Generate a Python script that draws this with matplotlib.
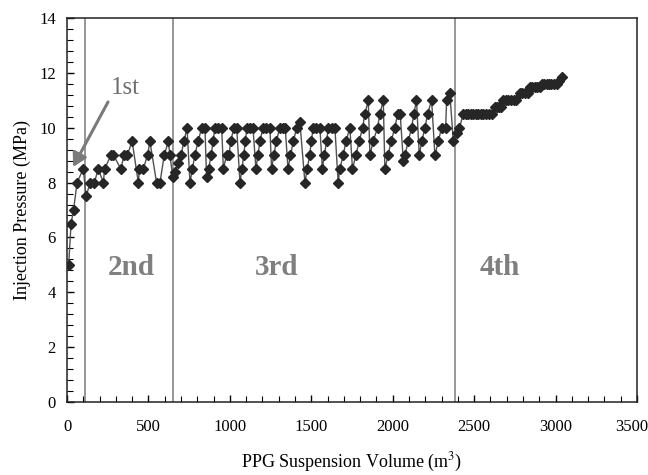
import matplotlib.pyplot as plt
import matplotlib.transforms as mtransforms
import numpy as np

plt.rcParams['font.family'] = ['Liberation Serif', 'DejaVu Serif']
plt.rcParams['mathtext.fontset'] = 'stix'

# PPG suspension volume (m3) and injection pressure (MPa)
volume = [10, 25, 40, 62, 100, 117, 143, 168, 192, 223, 231, 270, 285, 331, 350, 370, 400,
          438, 445, 468, 495, 509, 550, 571, 597, 622, 632,
          650, 665, 680, 700, 718, 737,
          755, 770, 785, 805, 827, 847,
          857, 870, 885, 897, 908, 930, 950,
          960, 980, 995, 1005, 1025, 1042,
          1062, 1075, 1085, 1095, 1105, 1125, 1142,
          1160, 1172, 1185, 1203, 1225, 1246,
          1256, 1270, 1285, 1307, 1325, 1340,
          1357, 1372, 1390, 1410, 1430,
          1461, 1475, 1490, 1500, 1512, 1530, 1553,
          1568, 1580, 1594, 1604, 1625, 1645,
          1665, 1675, 1696, 1713, 1737,
          1753, 1774, 1794, 1815, 1829, 1850,
          1860, 1880, 1907, 1921, 1942,
          1952, 1972, 1990, 2013, 2030, 2046,
          2065, 2075, 2095, 2116, 2130, 2146,
          2163, 2178, 2198, 2214, 2239,
          2259, 2280, 2300, 2325, 2331, 2351,
          2372, 2392, 2410, 2433,
          2450, 2465, 2480, 2495, 2510, 2525, 2540, 2555, 2570, 2590, 2610,
          2627, 2640, 2655, 2668,
          2678, 2695, 2710, 2725, 2742, 2760,
          2781, 2795, 2810, 2830,
          2842, 2857, 2872, 2888, 2904,
          2914, 2930, 2945, 2960, 2975, 2990, 3006, 3020, 3037]
pressure = [5.0, 6.5, 7.0, 8.0, 8.5, 7.5, 8.0, 8.0, 8.5, 8.0, 8.5, 9.0, 9.0, 8.5, 9.0, 9.0, 9.5,
            8.0, 8.5, 8.5, 9.0, 9.5, 8.0, 8.0, 9.0, 9.5, 9.0,
            8.2, 8.4, 8.7, 9.0, 9.5, 10.0,
            8.0, 8.5, 9.0, 9.5, 10.0, 10.0,
            8.2, 8.5, 9.0, 9.5, 10.0, 10.0, 10.0,
            8.5, 9.0, 9.0, 9.5, 10.0, 10.0,
            8.0, 8.5, 9.0, 9.5, 10.0, 10.0, 10.0,
            8.5, 9.0, 9.5, 10.0, 10.0, 10.0,
            8.5, 9.0, 9.5, 10.0, 10.0, 10.0,
            8.5, 9.0, 9.5, 10.0, 10.2,
            8.0, 8.5, 9.0, 9.5, 10.0, 10.0, 10.0,
            8.5, 9.0, 9.5, 10.0, 10.0, 10.0,
            8.0, 8.5, 9.0, 9.5, 10.0,
            8.5, 9.0, 9.5, 10.0, 10.5, 11.0,
            9.0, 9.5, 10.0, 10.5, 11.0,
            8.5, 9.0, 9.5, 10.0, 10.5, 10.5,
            8.8, 9.0, 9.5, 10.0, 10.5, 11.0,
            9.0, 9.5, 10.0, 10.5, 11.0,
            9.0, 9.5, 10.0, 10.0, 11.0, 11.25,
            9.5, 9.8, 10.0, 10.5,
            10.5, 10.5, 10.5, 10.5, 10.5, 10.5, 10.5, 10.5, 10.5, 10.5, 10.5,
            10.75, 10.75, 10.75, 10.75,
            11.0, 11.0, 11.0, 11.0, 11.0, 11.0,
            11.25, 11.25, 11.25, 11.25,
            11.5, 11.5, 11.5, 11.5, 11.5,
            11.6, 11.6, 11.6, 11.6, 11.6, 11.6, 11.6, 11.7, 11.85]

stage_bounds = [110, 650, 2380]
stage_names = ['2nd', '3rd', '4th']
stage_label_x = [393, 1289, 2655]

fig = plt.figure(figsize=(6.48, 4.75), dpi=100)
ax = fig.add_axes([0.1034, 0.1537, 0.8796, 0.8084])

for b in stage_bounds:
    ax.axvline(b, color='#858585', lw=1.2, zorder=1)

ax.plot(volume, pressure, color='#505050', lw=1.0, marker='D', markersize=5.6,
        markerfacecolor='#262626', markeredgecolor='#262626', zorder=3)

for name, xs in zip(stage_names, stage_label_x):
    ax.text(xs, 4.9, name, ha='center', va='center', fontsize=21,
            fontweight='bold', color='#7f7f7f')

ax.annotate('', xy=(37, 8.57), xytext=(252, 10.94),
            arrowprops=dict(arrowstyle='-|>,head_length=0.8,head_width=0.45',
                            color='#7a7a7a', lw=2.2, shrinkA=0, shrinkB=0))
ax.text(356, 11.45, '1st', ha='center', va='center', fontsize=18, color='#6f6f6f')

ax.set_xlim(0, 3500)
ax.set_ylim(0, 14)
ax.set_xticks(np.arange(0, 3501, 500))
ax.set_yticks(np.arange(0, 15, 2))
ax.set_xticks(np.arange(0, 3501, 100), minor=True)
ax.set_yticks(np.arange(0, 14.01, 0.4), minor=True)
ax.tick_params(which='both', direction='in', labelsize=12, top=False, right=False)
ax.tick_params(which='major', length=5, width=1)
ax.tick_params(which='minor', length=4, width=0.8)
ax.tick_params(axis='x', pad=12)
ax.tick_params(axis='y', pad=8)
for s in ax.spines.values():
    s.set_linewidth(1.1)
    s.set_color('#222222')

# last x label sits at the figure edge; nudge it left a little
fig.canvas.draw()
last = ax.get_xticklabels()[-1]
last.set_transform(last.get_transform() +
                   mtransforms.ScaledTranslation(-0.05, 0, fig.dpi_scale_trans))

ax.set_xlabel('PPG Suspension Volume (m$^{3}$)', fontsize=13, labelpad=12)
ax.set_ylabel('Injection Pressure (MPa)', fontsize=13, labelpad=6)

fig.savefig('out.png', dpi=100)
